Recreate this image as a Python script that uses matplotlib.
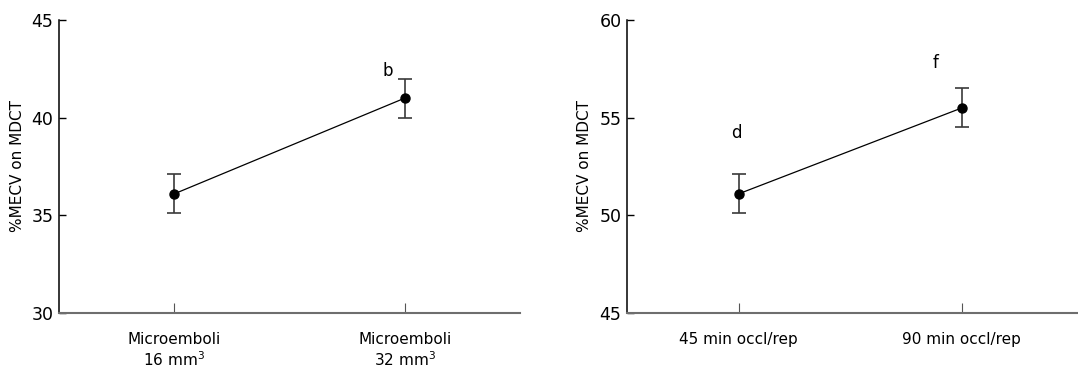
import matplotlib
matplotlib.use('Agg')
import matplotlib.pyplot as plt

# left panel: microemboli volume
left_labels = ['Microemboli\n16 mm$^3$', 'Microemboli\n32 mm$^3$']
left_means = [36.1, 41.0]
left_err = [1.0, 1.0]
left_marks = ['', 'b']
left_mark_y = [None, 42.4]

# right panel: occlusion/reperfusion time
right_labels = ['45 min occl/rep', '90 min occl/rep']
right_means = [51.1, 55.5]
right_err = [1.0, 1.0]
right_marks = ['d', 'f']
right_mark_y = [54.2, 57.8]

YLABEL = '%MECV on MDCT'

plt.rcParams['font.family'] = ['DejaVu Sans']
plt.rcParams['mathtext.fontset'] = 'dejavusans'

fig = plt.figure(figsize=(10.78, 3.78), dpi=100)
W, H = 1078.0, 378.0
ax1 = fig.add_axes([59 / W, 1 - 313 / H, 461 / W, 293 / H])
ax2 = fig.add_axes([627 / W, 1 - 313 / H, 451 / W, 293 / H])


def draw_panel(ax, labels, means, errs, marks, mark_y, ylim, yticks, xlim, mark_dx):
    x = list(range(len(means)))
    ax.plot(x, means, color='black', lw=0.9, zorder=2)
    ax.errorbar(x, means, yerr=errs, fmt='none', ecolor='#3a3a3a',
                elinewidth=1.2, capsize=5, capthick=1.2, zorder=1)
    ax.plot(x, means, 'o', color='black', ms=6.5, zorder=3)
    for xi, m, my, dx in zip(x, marks, mark_y, mark_dx):
        if m:
            ax.text(xi + dx, my, m, ha='center', va='center', fontsize=12)
    ax.set_xlim(*xlim)
    ax.set_ylim(*ylim)
    ax.set_yticks(yticks)
    ax.set_xticks(x)
    ax.set_xticklabels(labels, fontsize=11)
    ax.tick_params(axis='y', direction='in', length=5, width=1, labelsize=12.5, pad=4)
    ax.tick_params(axis='x', direction='in', length=7, width=0.8,
                   color='#555555', pad=14)
    ax.set_ylabel(YLABEL, fontsize=11, labelpad=5)
    for s in ['top', 'right']:
        ax.spines[s].set_visible(False)
    ax.spines['left'].set_color('black')
    ax.spines['left'].set_linewidth(1.1)
    ax.spines['bottom'].set_color('#6e6e6e')
    ax.spines['bottom'].set_linewidth(1.5)


draw_panel(ax1, left_labels, left_means, left_err, left_marks, left_mark_y,
           (30, 45), [30, 35, 40, 45], (-0.5, 1.5), [0, -0.075])
# right panel axis runs off the figure edge in the reference
draw_panel(ax2, right_labels, right_means, right_err, right_marks, right_mark_y,
           (45, 60), [45, 50, 55, 60], (-0.5, 1.52), [-0.01, -0.12])

fig.savefig('out.png', dpi=100)
